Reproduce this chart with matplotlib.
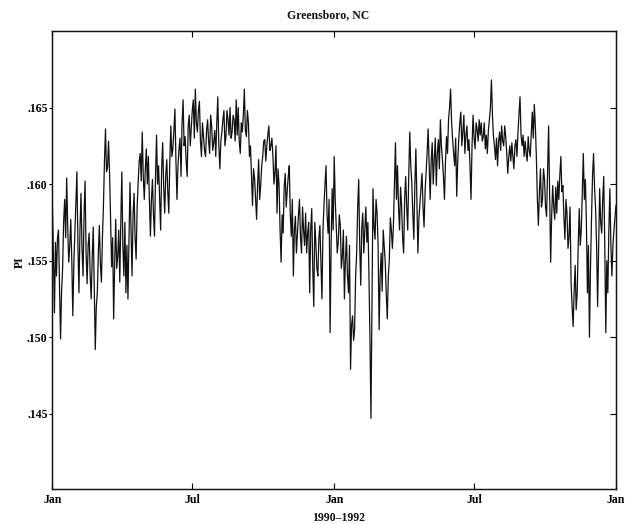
import numpy as np
import pandas as pd
import matplotlib
matplotlib.use("Agg")
import matplotlib.pyplot as plt
from matplotlib.ticker import FuncFormatter

INK = "#111111"
FONT = ["Liberation Serif", "DejaVu Serif"]

plt.rcParams.update({
    "font.family": FONT,
    "font.weight": "bold",
    "font.size": 8.5,
    "axes.linewidth": 0.9,
    "axes.edgecolor": INK,
    "text.color": INK,
})

# values, one every ~2.6 days (the stroke ends) ...
pi_strokes = [
    0.1586, 0.1516, 0.1540, 0.1570, 0.1499, 0.1545, 0.1590, 0.1604, 0.1549, 0.1577,
    0.1514, 0.1568, 0.1608, 0.1529, 0.1594, 0.1540, 0.1602, 0.1535, 0.1568, 0.1525,
    0.1572, 0.1492, 0.1529, 0.1573, 0.1536, 0.1586, 0.1636, 0.1611, 0.1607, 0.1546,
    0.1512, 0.1577, 0.1553, 0.1536, 0.1608, 0.1540, 0.1529, 0.1525, 0.1601, 0.1540,
    0.1594, 0.1551, 0.1601, 0.1620, 0.1634, 0.1590, 0.1623, 0.1618, 0.1566, 0.1603,
    0.1566, 0.1632, 0.1612, 0.1570, 0.1627, 0.1581, 0.1616, 0.1581, 0.1638, 0.1623,
    0.1649, 0.1590, 0.1623, 0.1605, 0.1655, 0.1631, 0.1605, 0.1645, 0.1637, 0.1655,
    0.1662, 0.1634, 0.1654, 0.1618, 0.1631, 0.1618, 0.1642, 0.1620, 0.1638, 0.1627,
    0.1618, 0.1657, 0.1610, 0.1634, 0.1648, 0.1631, 0.1642, 0.1650, 0.1634, 0.1642,
    0.1655, 0.1650, 0.1620, 0.1634, 0.1662, 0.1631, 0.1640, 0.1625, 0.1586, 0.1604,
    0.1577, 0.1616, 0.1599, 0.1618, 0.1629, 0.1625, 0.1638, 0.1625, 0.1618, 0.1608,
    0.1581, 0.1599, 0.1549, 0.1568, 0.1607, 0.1596, 0.1612, 0.1566, 0.1540, 0.1579,
    0.1568, 0.1590, 0.1555, 0.1570, 0.1581, 0.1568, 0.1529, 0.1584, 0.1520, 0.1562,
    0.1540, 0.1573, 0.1525, 0.1586, 0.1612, 0.1568, 0.1503, 0.1597, 0.1618, 0.1573,
    0.1562, 0.1573, 0.1553, 0.1525, 0.1566, 0.1529, 0.1479, 0.1514, 0.1505, 0.1555,
    0.1603, 0.1534, 0.1581, 0.1570, 0.1562, 0.1542, 0.1447, 0.1597, 0.1564, 0.1581,
    0.1505, 0.1555, 0.1570, 0.1549, 0.1512, 0.1551, 0.1570, 0.1573, 0.1627, 0.1612,
    0.1570, 0.1586, 0.1555, 0.1605, 0.1570, 0.1634, 0.1601, 0.1564, 0.1623, 0.1555,
    0.1588, 0.1607, 0.1572, 0.1607, 0.1636, 0.1590, 0.1627, 0.1616, 0.1599, 0.1629,
    0.1642, 0.1616, 0.1590, 0.1631, 0.1642, 0.1662, 0.1629, 0.1612, 0.1592, 0.1629,
    0.1647, 0.1634, 0.1620, 0.1638, 0.1629, 0.1590, 0.1645, 0.1623, 0.1636, 0.1642,
    0.1640, 0.1631, 0.1623, 0.1620, 0.1642, 0.1668, 0.1631, 0.1616, 0.1612, 0.1634,
    0.1638, 0.1625, 0.1631, 0.1607, 0.1625, 0.1627, 0.1610, 0.1629, 0.1634, 0.1657,
    0.1625, 0.1618, 0.1620, 0.1631, 0.1618, 0.1647, 0.1652, 0.1618, 0.1573, 0.1610,
    0.1590, 0.1603, 0.1579, 0.1638, 0.1549, 0.1599, 0.1577, 0.1581, 0.1590, 0.1618,
    0.1599, 0.1564, 0.1581, 0.1566, 0.1536, 0.1507, 0.1547, 0.1529, 0.1584, 0.1570,
    0.1620, 0.1603, 0.1529, 0.1500, 0.1577, 0.1620, 0.1584, 0.1520, 0.1597, 0.1568,
    0.1605, 0.1503, 0.1529, 0.1597, 0.1540, 0.1570, 0.1586,
]
# ... and the day in between each pair of them
pi_between = [
    0.1555, 0.1562, 0.1565, 0.1532, 0.1530, 0.1575, 0.1565, 0.1572, 0.1560, 0.1550,
    0.1548, 0.1590, 0.1560, 0.1570, 0.1558, 0.1580, 0.1555, 0.1560, 0.1540, 0.1552,
    0.1530, 0.1520, 0.1555, 0.1548, 0.1565, 0.1615, 0.1608, 0.1628, 0.1575, 0.1565,
    0.1548, 0.1545, 0.1570, 0.1575, 0.1560, 0.1575, 0.1560, 0.1565, 0.1570, 0.1580,
    0.1565, 0.1585, 0.1615, 0.1602, 0.1605, 0.1610, 0.1600, 0.1590, 0.1590, 0.1580,
    0.1605, 0.1600, 0.1590, 0.1610, 0.1598, 0.1605, 0.1595, 0.1615, 0.1618, 0.1635,
    0.1615, 0.1612, 0.1630, 0.1640, 0.1625, 0.1615, 0.1638, 0.1625, 0.1648, 0.1630,
    0.1640, 0.1648, 0.1628, 0.1640, 0.1622, 0.1635, 0.1628, 0.1645, 0.1622, 0.1635,
    0.1640, 0.1625, 0.1628, 0.1642, 0.1625, 0.1648, 0.1632, 0.1630, 0.1645, 0.1628,
    0.1632, 0.1628, 0.1640, 0.1645, 0.1635, 0.1648, 0.1618, 0.1605, 0.1610, 0.1590,
    0.1600, 0.1590, 0.1612, 0.1628, 0.1615, 0.1632, 0.1622, 0.1630, 0.1600, 0.1625,
    0.1610, 0.1570, 0.1580, 0.1598, 0.1585, 0.1605, 0.1580, 0.1590, 0.1570, 0.1555,
    0.1580, 0.1565, 0.1585, 0.1560, 0.1555, 0.1575, 0.1570, 0.1545, 0.1575, 0.1545,
    0.1565, 0.1550, 0.1570, 0.1600, 0.1580, 0.1590, 0.1560, 0.1570, 0.1590, 0.1555,
    0.1580, 0.1545, 0.1570, 0.1550, 0.1540, 0.1560, 0.1508, 0.1498, 0.1540, 0.1585,
    0.1560, 0.1572, 0.1555, 0.1585, 0.1575, 0.1500, 0.1525, 0.1572, 0.1590, 0.1560,
    0.1540, 0.1530, 0.1560, 0.1528, 0.1540, 0.1578, 0.1558, 0.1600, 0.1590, 0.1585,
    0.1598, 0.1565, 0.1590, 0.1585, 0.1605, 0.1612, 0.1580, 0.1600, 0.1590, 0.1578,
    0.1598, 0.1585, 0.1595, 0.1620, 0.1612, 0.1615, 0.1600, 0.1630, 0.1620, 0.1610,
    0.1625, 0.1605, 0.1615, 0.1620, 0.1650, 0.1640, 0.1620, 0.1630, 0.1615, 0.1640,
    0.1625, 0.1645, 0.1632, 0.1622, 0.1612, 0.1625, 0.1630, 0.1640, 0.1628, 0.1632,
    0.1628, 0.1640, 0.1632, 0.1635, 0.1650, 0.1645, 0.1625, 0.1630, 0.1628, 0.1622,
    0.1628, 0.1638, 0.1620, 0.1618, 0.1615, 0.1618, 0.1625, 0.1618, 0.1645, 0.1632,
    0.1632, 0.1628, 0.1615, 0.1622, 0.1632, 0.1630, 0.1638, 0.1590, 0.1595, 0.1585,
    0.1610, 0.1585, 0.1610, 0.1595, 0.1580, 0.1585, 0.1598, 0.1602, 0.1606, 0.1595,
    0.1578, 0.1590, 0.1558, 0.1585, 0.1520, 0.1530, 0.1518, 0.1560, 0.1560, 0.1595,
    0.1590, 0.1575, 0.1560, 0.1545, 0.1605, 0.1598, 0.1560, 0.1560, 0.1575, 0.1590,
    0.1560, 0.1550, 0.1570, 0.1560, 0.1560, 0.1578,
]

pi_values = [pi_strokes[0]]
for s, b in zip(pi_strokes[1:], pi_between):
    pi_values += [b, s]
dates = pd.date_range("1990-01-01", "1992-01-01", periods=len(pi_values))

tick_dates = pd.to_datetime(["1990-01-01", "1990-07-01", "1991-01-01",
                             "1991-07-01", "1992-01-01"])
tick_names = ["Jan", "Jul", "Jan", "Jul", "Jan"]
y_ticks = [0.145, 0.150, 0.155, 0.160, 0.165]

fig = plt.figure(figsize=(6.39, 5.24), dpi=100)
ax = fig.add_axes([0.082, 0.067, 0.882, 0.874])

ax.plot(dates, pi_values, color=INK, lw=0.9)

ax.set_xlim(tick_dates[0], tick_dates[-1])
ax.set_ylim(0.1401, 0.1700)

ax.set_xticks(tick_dates)
ax.set_xticklabels(tick_names)
ax.tick_params(axis="x", direction="in", length=4, width=0.8, top=True,
               pad=4, labelsize=8.5)

ax.set_yticks(y_ticks)
ax.yaxis.set_major_formatter(FuncFormatter(lambda v, p: f"{v:.3f}".lstrip("0")))
ax.tick_params(axis="y", direction="out", length=2.5, width=0.8, pad=1,
               labelsize=8.5)

# right-hand ticks point inward, without labels
ax_r = ax.twinx()
ax_r.set_ylim(ax.get_ylim())
ax_r.set_yticks(y_ticks)
ax_r.tick_params(axis="y", direction="in", length=4, width=0.8, labelright=False)

for lab in ax.get_xticklabels() + ax.get_yticklabels():
    lab.set_fontweight("bold")

fig.text(0.513, 0.971, "Greensboro, NC", ha="center", va="center",
         fontsize=8.5, fontweight="bold")
fig.text(0.031, 0.50, "PI", ha="center", va="center", rotation=90,
         fontsize=8.5, fontweight="bold")
fig.text(0.53, 0.012, "1990\u20131992", ha="center", va="center",
         fontsize=8.5, fontweight="bold")

fig.savefig("out.png", dpi=100)
